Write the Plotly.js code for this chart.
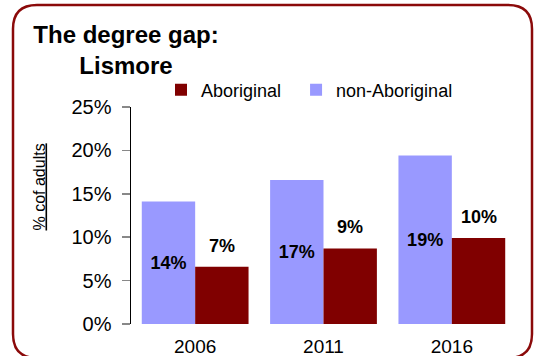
<!DOCTYPE html>
<html>
<head>
<meta charset="utf-8">
<script src="https://cdn.plot.ly/plotly-3.0.1.min.js"></script>
<style>
  html, body { margin: 0; padding: 0; background: #ffffff; }
  #chart { width: 539px; height: 356px; }
</style>
</head>
<body>
<div id="chart"></div>
<script>
// ---- Data ----
var years = ['2006', '2011', '2016'];
var nonAboriginal = [14.1, 16.6, 19.4];
var aboriginal = [6.6, 8.7, 9.9];
var yTickValues = [0, 5, 10, 15, 20, 25];
var yTickLabels = ['0%', '5%', '10%', '15%', '20%', '25%'];
var seriesNames = ['non-Aboriginal', 'Aboriginal'];
var chartTitle = 'The degree gap:<br>Lismore';
var yTitle = '% cof adults';

// ---- Layout geometry (pixels) ----
var W = 539, H = 356;
var M = { l: 131, r: 23, t: 107, b: 32 };
var PW = W - M.l - M.r, PH = H - M.t - M.b;
function px(x) { return (x - M.l) / PW; }
function py(y) { return (H - M.b - y) / PH; }

var FONT = 'Liberation Sans, Arial, sans-serif';
var MAROON = '#800000';
var LILAC = '#9999FF';
var BARGAP = 0.168;

function pct(v) { return Math.round(v) + '%'; }

var traces = [
  {
    type: 'bar',
    name: seriesNames[0],
    x: years,
    y: nonAboriginal,
    marker: { color: LILAC, line: { width: 0 } },
    text: nonAboriginal.map(pct),
    textposition: 'inside',
    insidetextanchor: 'middle',
    textangle: 0,
    textfont: { family: FONT, size: 18, color: '#000000', weight: 'bold' },
    legendrank: 2,
    hoverinfo: 'none'
  },
  {
    type: 'bar',
    name: seriesNames[1] + '\u00a0\u00a0',
    x: years,
    y: aboriginal,
    marker: { color: MAROON, line: { width: 0 } },
    legendrank: 1,
    hoverinfo: 'none'
  }
];

// Labels above the Aboriginal bars (category axis: x given as serial index)
var annotations = aboriginal.map(function (v, i) {
  return {
    x: i + (1 - BARGAP) / 4, y: v, xref: 'x', yref: 'y',
    text: '<b>' + pct(v) + '</b>',
    showarrow: false, xanchor: 'center', yanchor: 'middle',
    yshift: 21,
    font: { family: FONT, size: 18, color: '#000000' }
  };
});
annotations.push({
  xref: 'paper', yref: 'paper', x: px(39), y: py(187.5),
  text: '<u>' + yTitle + '</u>', textangle: -90, showarrow: false,
  xanchor: 'center', yanchor: 'middle',
  font: { family: FONT, size: 16, color: '#000000' }
});

// Rounded frame
function framePath(x0, y0, x1, y1, r) {
  function P(x, y) { return px(x) + ',' + py(y); }
  return 'M' + P(x0 + r, y0) + ' L' + P(x1 - r, y0) + ' Q' + P(x1, y0) + ' ' + P(x1, y0 + r) +
    ' L' + P(x1, y1 - r) + ' Q' + P(x1, y1) + ' ' + P(x1 - r, y1) +
    ' L' + P(x0 + r, y1) + ' Q' + P(x0, y1) + ' ' + P(x0, y1 - r) +
    ' L' + P(x0, y0 + r) + ' Q' + P(x0, y0) + ' ' + P(x0 + r, y0) + ' Z';
}

var layout = {
  width: W, height: H,
  margin: M,
  paper_bgcolor: '#ffffff', plot_bgcolor: '#ffffff',
  font: { family: FONT, color: '#000000' },
  barmode: 'group',
  bargap: BARGAP,
  bargroupgap: 0,
  title: {
    text: '<b>' + chartTitle + '</b>',
    font: { family: FONT, size: 24, color: '#000000' },
    xref: 'container', yref: 'container',
    x: 126 / W, xanchor: 'center',
    y: 1 - 43 / H, yanchor: 'top'
  },
  xaxis: {
    type: 'category',
    range: [-0.5, years.length - 0.5],
    autorange: false,
    showline: false, showgrid: false, zeroline: false,
    ticks: '',
    tickfont: { family: FONT, size: 19, color: '#000000' },
    ticklabelstandoff: 9
  },
  yaxis: {
    range: [0, 25],
    autorange: false,
    tickvals: yTickValues, ticktext: yTickLabels,
    showline: true, linecolor: '#000000', linewidth: 1.5,
    ticks: 'outside', ticklen: 8, tickwidth: 1.5, tickcolor: '#888888',
    showgrid: false, zeroline: false,
    tickfont: { family: FONT, size: 20, color: '#000000' },
    ticklabelstandoff: 6
  },
  showlegend: true,
  legend: {
    orientation: 'h',
    x: px(161), xanchor: 'left',
    y: py(90), yanchor: 'middle',
    font: { family: FONT, size: 18, color: '#000000' },
    bgcolor: 'rgba(0,0,0,0)'
  },
  shapes: [{
    type: 'path', xref: 'paper', yref: 'paper',
    path: framePath(13, 5, 532, 358, 24),
    line: { color: '#8B0A0A', width: 2.5 },
    fillcolor: 'rgba(0,0,0,0)',
    layer: 'above'
  }],
  annotations: annotations
};

Plotly.newPlot('chart', traces, layout, { displayModeBar: false, staticPlot: true });
</script>
</body>
</html>
